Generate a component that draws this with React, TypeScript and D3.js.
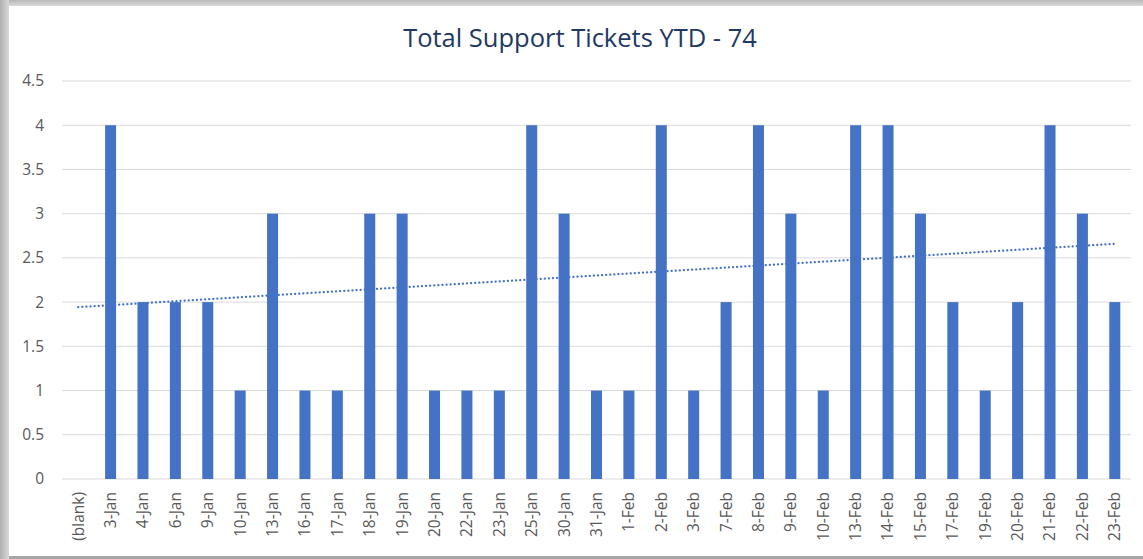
import React from "react";
import * as d3 from "d3";

const categories: string[] = [
  "(blank)", "3-Jan", "4-Jan", "6-Jan", "9-Jan", "10-Jan", "13-Jan", "16-Jan", "17-Jan",
  "18-Jan", "19-Jan", "20-Jan", "22-Jan", "23-Jan", "25-Jan", "30-Jan", "31-Jan", "1-Feb",
  "2-Feb", "3-Feb", "7-Feb", "8-Feb", "9-Feb", "10-Feb", "13-Feb", "14-Feb", "15-Feb",
  "17-Feb", "19-Feb", "20-Feb", "21-Feb", "22-Feb", "23-Feb",
];

const tickets: (number | null)[] = [
  null, 4, 2, 2, 2, 1, 3, 1, 1,
  3, 3, 1, 1, 1, 4, 3, 1, 1,
  4, 1, 2, 4, 3, 1, 4, 4, 3,
  2, 1, 2, 4, 3, 2,
];

const yTicks: number[] = [0, 0.5, 1, 1.5, 2, 2.5, 3, 3.5, 4, 4.5];

const title = "Total Support Tickets YTD - 74";

const W = 1143;
const H = 559;
const plot = { left: 62, right: 1131, top: 81, bottom: 479 };
const BAR = "#4472C4";

export default function App() {
  const x = d3
    .scaleBand<string>()
    .domain(categories)
    .range([plot.left, plot.right])
    .paddingInner(0.66)
    .paddingOuter(0.33);
  const y = d3.scaleLinear().domain([0, 4.5]).range([plot.bottom, plot.top]);

  // linear trendline (least squares over points that have values)
  const pts = tickets
    .map((v, i) => ({ xi: i + 1, v }))
    .filter((p) => p.v !== null) as { xi: number; v: number }[];
  const mx = d3.mean(pts, (p) => p.xi)!;
  const my = d3.mean(pts, (p) => p.v)!;
  const sxy = d3.sum(pts, (p) => (p.xi - mx) * (p.v - my));
  const sxx = d3.sum(pts, (p) => (p.xi - mx) ** 2);
  const slope = sxy / sxx;
  const icpt = my - slope * mx;
  const center = (c: string) => x(c)! + x.bandwidth() / 2;
  const trend = [1, categories.length].map((xi) => ({
    px: center(categories[xi - 1]),
    py: y(icpt + slope * xi),
  }));
  const line = d3
    .line<{ px: number; py: number }>()
    .x((d) => d.px)
    .y((d) => d.py);

  return (
    <svg
      width={W}
      height={H}
      style={{ position: "absolute", left: 0, top: 0, display: "block" }}
      fontFamily="'Open Sans', 'DejaVu Sans', sans-serif"
    >
      <defs>
        <linearGradient id="lg" x1="0" x2="1" y1="0" y2="0">
          <stop offset="0" stopColor="#b0b0b0" />
          <stop offset="1" stopColor="#d8d8d8" />
        </linearGradient>
        <linearGradient id="tg" x1="0" x2="0" y1="0" y2="1">
          <stop offset="0" stopColor="#b8b8b8" />
          <stop offset="1" stopColor="#dadada" />
        </linearGradient>
      </defs>
      <rect x={0} y={0} width={W} height={H} fill="#ffffff" />
      <rect x={0} y={0} width={W} height={6} fill="url(#tg)" />
      <rect x={0} y={0} width={9} height={H} fill="url(#lg)" />
      <rect x={9} y={556} width={W - 9} height={3} fill="#a6a6a6" />

      <text
        x={580}
        y={47}
        textAnchor="middle"
        fontSize={25.5}
        fill="#1f3864"
        fontFamily="'Open Sans', sans-serif"
      >
        {title}
      </text>

      {yTicks.map((t) => (
        <g key={t}>
          <line
            x1={plot.left}
            x2={plot.right}
            y1={y(t)}
            y2={y(t)}
            stroke="#d9d9d9"
            strokeWidth={1}
          />
          <text
            x={44}
            y={y(t)}
            dy="0.35em"
            textAnchor="end"
            fontSize={15.5}
            fill="#595959"
          >
            {t}
          </text>
        </g>
      ))}

      {categories.map((c, i) =>
        tickets[i] === null ? null : (
          <rect
            key={c}
            x={x(c)}
            y={y(tickets[i] as number)}
            width={x.bandwidth()}
            height={y(0) - y(tickets[i] as number)}
            fill={BAR}
          />
        )
      )}

      <path
        d={line(trend) || ""}
        fill="none"
        stroke={BAR}
        strokeWidth={2.2}
        strokeDasharray="0.1 4"
        strokeLinecap="round"
      />

      {categories.map((c) => (
        <text
          key={c}
          transform={`translate(${center(c)},${492}) rotate(-90)`}
          dy="0.35em"
          textAnchor="end"
          fontSize={15.5}
          fill="#595959"
        >
          {c}
        </text>
      ))}
    </svg>
  );
}
